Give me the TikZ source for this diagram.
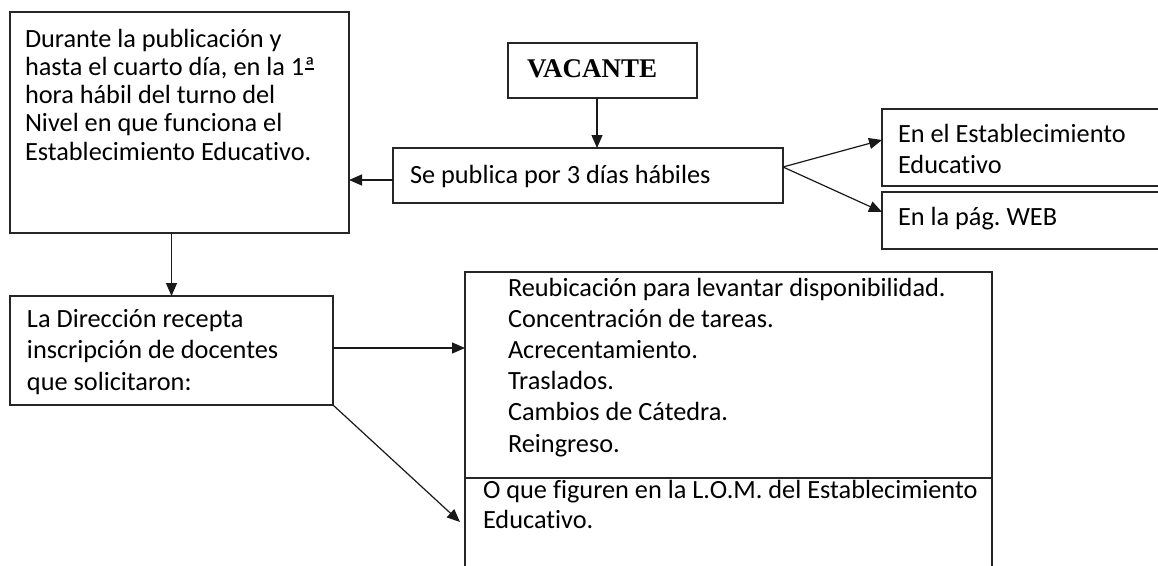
\documentclass[tikz,border=0pt]{standalone}
\usepackage{fontspec}
\setmainfont{Carlito}[Ligatures=NoCommon]
\newfontfamily\timesfont{Liberation Serif}
\usetikzlibrary{arrows.meta}
\newcommand\firststrut{\rule{0pt}{24pt}}
\newcommand\ordfem{ª\llap{\raisebox{0.22em}{\rule{0.36em}{0.055em}}\hspace{0.02em}}}
\frenchspacing
\begin{document}
\begin{tikzpicture}[x=1pt,y=-1pt,
  box/.style={draw=black!85, line width=1.2pt, inner sep=0pt, outer sep=0pt, anchor=north west},
  txt/.style={anchor=north west, inner sep=0pt, outer sep=0pt, align=left, font=\fontsize{26.3}{#1}\selectfont},
  arr/.style={draw=black!90, line width=1.2pt, -{Triangle[length=13pt,width=11pt]}}]
\useasboundingbox (0,0) rectangle (1158,565);
\fill[white] (0,0) rectangle (1158,565);
\clip (0,0) rectangle (1158,565);
% boxes
\node[box, minimum width=339pt, minimum height=221pt] (b1) at (10,12) {};
\node[box, minimum width=323pt, minimum height=109pt] (b2) at (10,296) {};
\node[box, minimum width=189pt, minimum height=55pt] (vac) at (508,43) {};
\node[box, minimum width=390pt, minimum height=55pt] (pub) at (393,148) {};
\node[box, minimum width=290pt, minimum height=77pt] (est) at (882,109) {};
\node[box, minimum width=290pt, minimum height=57pt] (web) at (882,192) {};
\node[box, minimum width=527pt, minimum height=206pt] (listtop) at (465,272) {};
\node[box, minimum width=527pt, minimum height=110pt] (listbot) at (465,478) {};
% texts
\node[txt=28.3] (t1) at (25,23) {\firststrut Durante la publicación y\\hasta el cuarto día, en la 1\ordfem\\hora hábil del turno del\\Nivel en que funciona el\\Establecimiento Educativo.};
\node[txt=28, font=\timesfont\bfseries\fontsize{27}{28}\selectfont] (tvac) at (527,53) {\firststrut VACANTE};
\node[txt=28] (tpub) at (410,159) {\firststrut Se publica por 3 días hábiles};
\node[txt=31] (test) at (898,118) {\firststrut En el Establecimiento\\Educativo};
\node[txt=31] (tweb) at (898,201) {\firststrut En la pág. WEB};
\node[txt=31.5] (t2) at (27,303) {\firststrut La Dirección recepta\\inscripción de docentes\\que solicitaron:};
\node[txt=31.2] (tlist) at (508,272) {\firststrut Reubicación para levantar disponibilidad.\\Concentración de tareas.\\Acrecentamiento.\\Traslados.\\Cambios de Cátedra.\\Reingreso.};
\node[txt=30] (tlom) at (483,474) {\firststrut O que figuren en la L.O.M. del Establecimiento\\Educativo.};
% connectors
\draw[arr] ([xshift=-5.5pt]vac.south) -- ([xshift=9pt]pub.north);
\draw[arr] ([yshift=-4.5pt]pub.west) -- ([yshift=-4.5pt]pub.west -| b1.east);
\coordinate (fork) at ([yshift=8.5pt]pub.east);
\draw[arr] (fork) -- ([yshift=7.5pt]est.west);
\draw[arr] (fork) -- ([yshift=8.5pt]web.west);
\draw[arr] (b1.south -| b2.north) -- (b2.north);
\draw[arr] ([yshift=2.5pt]b2.east) -- ([yshift=2.5pt]b2.east -| listtop.west);
\draw[arr] (b2.south east) -- ([xshift=-5pt,yshift=11pt]listbot.west);
\end{tikzpicture}
\end{document}
